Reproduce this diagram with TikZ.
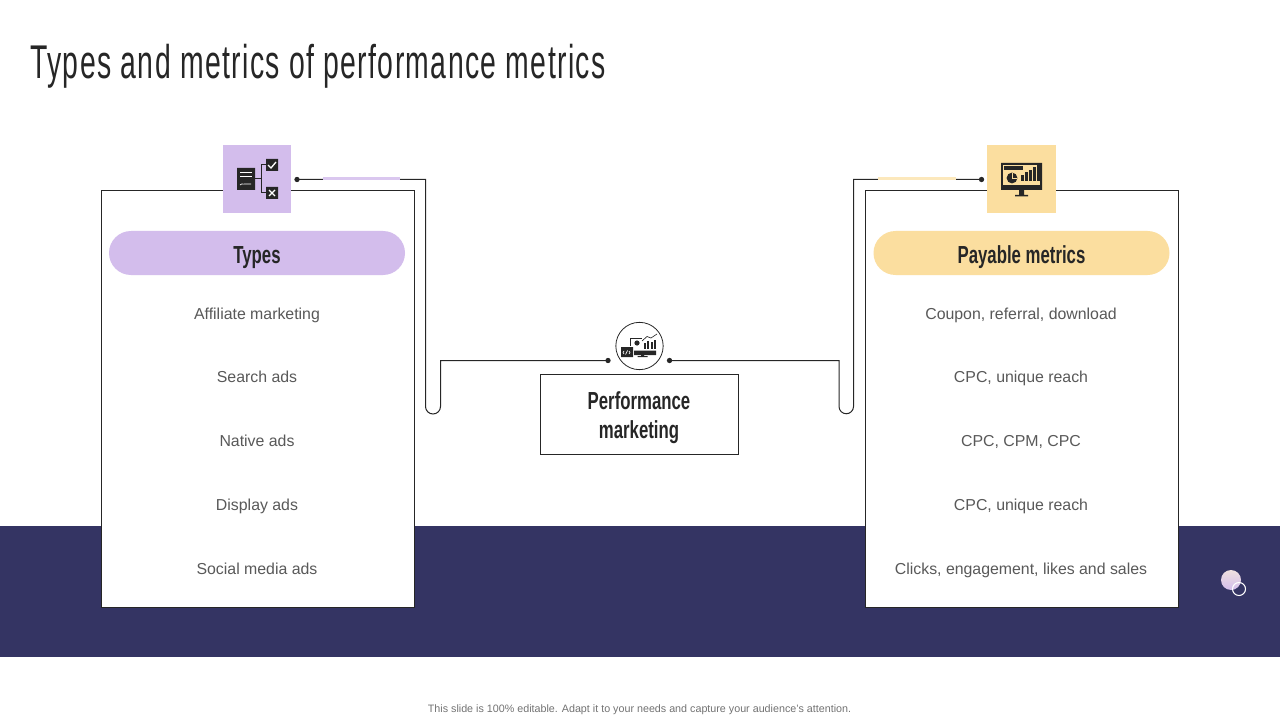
\documentclass[tikz,border=0pt]{standalone}
\usepackage{fontspec}
\setmainfont{Liberation Sans}
\newfontfamily\narrowfont[FakeStretch=.6,LetterSpace=2.9]{Liberation Sans}
\newfontfamily\headfont[FakeStretch=.68]{Liberation Sans}
\definecolor{bandblue}{HTML}{343463}
\definecolor{lilac}{HTML}{D3BDEC}
\definecolor{sand}{HTML}{FBDE9F}
\definecolor{inkdark}{HTML}{262626}
\definecolor{itemgrey}{HTML}{595959}
\tikzset{
  panel/.style={draw=inkdark,fill=white,line width=.75pt,minimum width=234.75pt,minimum height=313.1pt,inner sep=0pt},
  pill/.style={minimum width=222pt,minimum height=33pt,rounded corners=16.5pt,inner sep=0pt},
  headlabel/.style={inner sep=0pt,anchor=base,text=inkdark,font=\headfont\bfseries\fontsize{18.5}{22}\selectfont},
  iconbox/.style={minimum size=51pt,inner sep=0pt},
  dotmark/.style={circle,fill=inkdark,minimum size=4pt,inner sep=0pt},
  wire/.style={draw=inkdark,line width=.75pt},
  item/.style={text=itemgrey,font=\fontsize{11.9}{15}\selectfont,inner sep=0pt,anchor=base},
}
\begin{document}
\begin{tikzpicture}[x=.75pt,y=-.75pt]
  \useasboundingbox (0,0) rectangle (1280,720);
  \fill[bandblue] (0,526) rectangle (1280,657);
  \node[anchor=base west,inner sep=0pt,text=inkdark,font=\narrowfont\fontsize{35.5}{40}\selectfont] (title) at (30,79) {Types and metrics of performance metrics};
  % panels
  \node[panel] (typepanel) at (258,399.25) {};
  \node[panel] (metricpanel) at (1022,399.25) {};
  \node[iconbox,fill=lilac] (typeicon) at (257,179) {};
  \node[iconbox,minimum width=51.75pt,fill=sand] (metricicon) at (1021.5,179) {};
  \node[pill,fill=lilac] (typehead) at (257,253) {};
  \node[pill,fill=sand] (metrichead) at (1021.5,253) {};
  \node[headlabel] (typetext) at (257,263) {Types};
  \node[headlabel] (metrictext) at (1021.5,263) {Payable metrics};
  \foreach \i/\y/\lab in {1/319.5/Affiliate marketing,2/382.5/Search ads,3/446.5/Native ads,4/510.5/Display ads,5/574.5/Social media ads}
    \node[item] (type\i) at (257,\y) {\lab};
  \foreach \i/\y/\lab in {1/319.5/{Coupon, referral, download},2/382.5/{CPC, unique reach},3/446.5/{CPC, CPM, CPC},4/510.5/{CPC, unique reach},5/574.5/{Clicks, engagement, likes and sales}}
    \node[item] (metric\i) at (1021,\y) {\lab};
  % centre
  \node[draw=inkdark,line width=.75pt,minimum width=148.5pt,minimum height=60pt,inner sep=0pt] (perfbox) at (639.5,414.5) {};
  \node[headlabel] (perftexta) at (639,409) {Performance};
  \node[headlabel] (perftextb) at (639,438) {marketing};
  \node[circle,draw=inkdark,line width=.6pt,minimum size=35.5pt,inner sep=0pt] (perficon) at (639.5,346) {};
  % connectors
  \node[dotmark] (typedot) at (297,179.5) {};
  \node[dotmark] (metricdot) at (981.5,179.5) {};
  \node[dotmark] (perfleft) at (608,360.5) {};
  \node[dotmark] (perfright) at (669.5,360.5) {};
  \draw[wire] (typedot.center) -- (425.5,179.5) -- (425.5,406.5) arc[start angle=180,end angle=0,radius=7.5] -- (440.5,360.5) -- (perfleft.center);
  \draw[wire] (perfright.center) -- (839,360.5) -- (839,406.5) arc[start angle=180,end angle=0,radius=7.25] -- (853.5,179.5) -- (metricdot.center);
  \fill[lilac!85!white] (323,177) rectangle (400,180.5);
  \fill[sand!70!white] (878,177) rectangle (956,180.5);
  % list icon
  \fill[inkdark] (237,168) rectangle (255,190) (266,159) rectangle (278,171) (266,187) rectangle (278,199);
  \draw[inkdark,line width=.75pt] (255,179) -- (261,179) (266,165) -- (261,165) -- (261,193) -- (266,193);
  \draw[white,line width=.6pt] (240,172.5) -- (252,172.5) (240,176) -- (252,176);
  \draw[white,line width=.5pt] (240,185) .. controls (243,182) and (244,186) .. (246,184) -- (251,184);
  \draw[white,line width=1pt] (268,165) -- (271,168) -- (276,162) (269,190) -- (275,196) (275,190) -- (269,196);
  % monitor icon
  \fill[inkdark] (1001,163) rectangle (1042,190) (1019,190) rectangle (1024,195) (1015,195) rectangle (1028,196.5);
  \fill[sand] (1003,165) rectangle (1040,185);
  \fill[inkdark] (1004,166) rectangle (1023,170.5);
  \fill[inkdark] (1012,178) circle[radius=5.4];
  \draw[sand,line width=.5pt] (1012,178) -- (1012,172.6) (1012,178) -- (1017.4,178);
  \foreach \x/\y in {1021/175,1025/172,1029/170,1033/167,1036.5/163}
    \fill[inkdark] (\x,\y) rectangle (\x+3.2,181);
  % analytics icon
  \fill[inkdark] (621,347) rectangle (633,357) (634,350.5) rectangle (656,355) (641,355) rectangle (644,356) (637.5,356) rectangle (647.5,357);
  \draw[inkdark,line width=.5pt] (630.5,346) -- (630.5,338.5) -- (642,338.5);
  \fill[inkdark] (637,343) circle[radius=2.6];
  \foreach \x/\y in {643.5/343,647/341,650.5/342,654/340}
    \fill[inkdark] (\x,\y) rectangle (\x+2,349);
  \draw[inkdark,line width=.5pt] (642,341) -- (647,336.5) -- (651,338) -- (657,334);
  \draw[white,line width=.5pt] (624,351) -- (623,352.5) -- (624,354) (629,351) -- (630,352.5) -- (629,354) (627.5,350.5) -- (625.5,354.5);
  % corner bubble
  \shade[top color=sand!45!lilac!60!white,bottom color=lilac] (1231,580) circle[radius=10];
  \draw[white,line width=.8pt] (1239,589) circle[radius=6.5];
  \node[inner sep=0pt,text=itemgrey!85,font=\fontsize{8.05}{10}\selectfont] (footnote) at (639.5,710) {This slide is 100\% editable. Adapt it to your needs and capture your audience's attention.};
\end{tikzpicture}
\end{document}
